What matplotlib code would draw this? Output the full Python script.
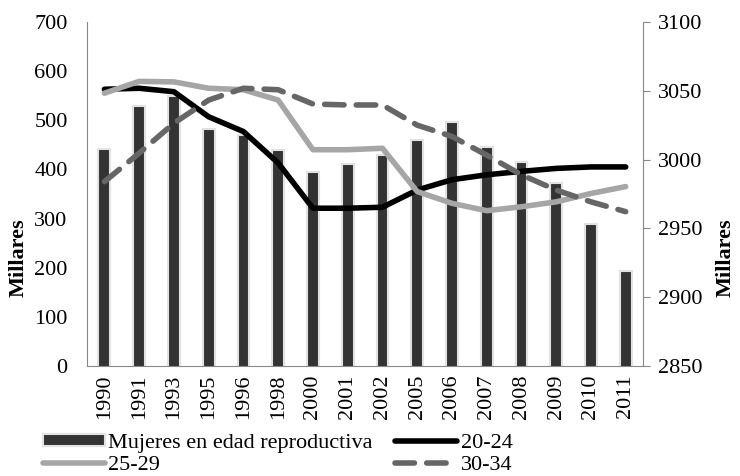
import matplotlib
matplotlib.use("Agg")
import matplotlib.pyplot as plt
import numpy as np

plt.rcParams['font.family'] = ['Liberation Serif', 'DejaVu Serif']

years = ["1990", "1991", "1993", "1995", "1996", "1998", "2000", "2001",
         "2002", "2005", "2006", "2007", "2008", "2009", "2010", "2011"]

# mujeres en edad reproductiva (eje derecho, millares)
mujeres = [3008, 3039, 3046, 3022, 3018, 3007, 2991, 2997,
           3003, 3014, 3027, 3009, 2998, 2983, 2953, 2919]

# grupos de edad (eje izquierdo, millares)
g20_24 = [563, 565, 558, 507, 477, 413, 321, 321,
          323, 358, 379, 389, 396, 402, 405, 405]
g25_29 = [555, 579, 578, 565, 562, 541, 440, 440,
          443, 355, 331, 316, 324, 334, 351, 365]
g30_34 = [375, 433, 494, 541, 565, 562, 533, 531,
          531, 490, 467, 429, 389, 358, 334, 314]

fs = 16

fig = plt.figure(figsize=(7.4, 4.76), dpi=100)
ax = fig.add_axes([0.1176, 0.231, 0.7514, 0.723])
ax2 = ax.twinx()

x = np.arange(len(years))

# bars on the right axis
ax2.bar(x, mujeres, width=0.34, color="#333333", edgecolor="#e2e2e2",
        linewidth=1.5, zorder=2, label="Mujeres en edad reproductiva")
ax2.set_ylim(2850, 3100)
ax2.set_yticks([2850, 2900, 2950, 3000, 3050, 3100])

# lines on the left axis, drawn over the bars
ax.set_zorder(ax2.get_zorder() + 1)
ax.patch.set_visible(False)
l1, = ax.plot(x, g20_24, color="black", lw=4, solid_capstyle="round",
              solid_joinstyle="round", label="20-24")
l2, = ax.plot(x, g25_29, color="#a6a6a6", lw=4, solid_capstyle="round",
              solid_joinstyle="round", label="25-29")
l3, = ax.plot(x, g30_34, color="#666666", lw=4, dashes=(3.5, 2.2),
              dash_capstyle="round", label="30-34")
ax.set_ylim(0, 700)
ax.set_yticks(range(0, 701, 100))
ax.set_xlim(-0.5, len(years) - 0.5)
ax.set_xticks(x)
ax.set_xticklabels(years, rotation=90)

for a in (ax, ax2):
    for s in a.spines.values():
        s.set_visible(False)
ax.spines["left"].set_visible(True)
ax.spines["left"].set_color("#888888")
ax.spines["bottom"].set_visible(True)
ax.spines["bottom"].set_color("#888888")
ax2.spines["right"].set_visible(True)
ax2.spines["right"].set_color("#888888")

ax.tick_params(axis="y", length=0, labelsize=fs, pad=14)
ax.tick_params(axis="x", length=0, labelsize=fs, pad=6)
ax2.tick_params(axis="y", length=5, color="#888888", labelsize=fs, pad=6)

ax.set_ylabel("Millares", fontsize=fs, fontweight="bold")
ax2.set_ylabel("Millares", fontsize=fs, fontweight="bold")
ax.yaxis.set_label_coords(-0.105, 0.315)
ax2.yaxis.set_label_coords(1.131, 0.315)

bar_handle = ax2.containers[0]
fig.legend([bar_handle, l2, l1, l3],
           ["Mujeres en edad reproductiva", "25-29", "20-24", "30-34"],
           ncol=2, loc="lower left", bbox_to_anchor=(0.04, -0.025),
           frameon=False, fontsize=fs, handlelength=2.8, handleheight=0.45,
           handletextpad=0.15, columnspacing=1.0, labelspacing=0.1,
           borderaxespad=0.2)

fig.savefig("out.png", dpi=100)
